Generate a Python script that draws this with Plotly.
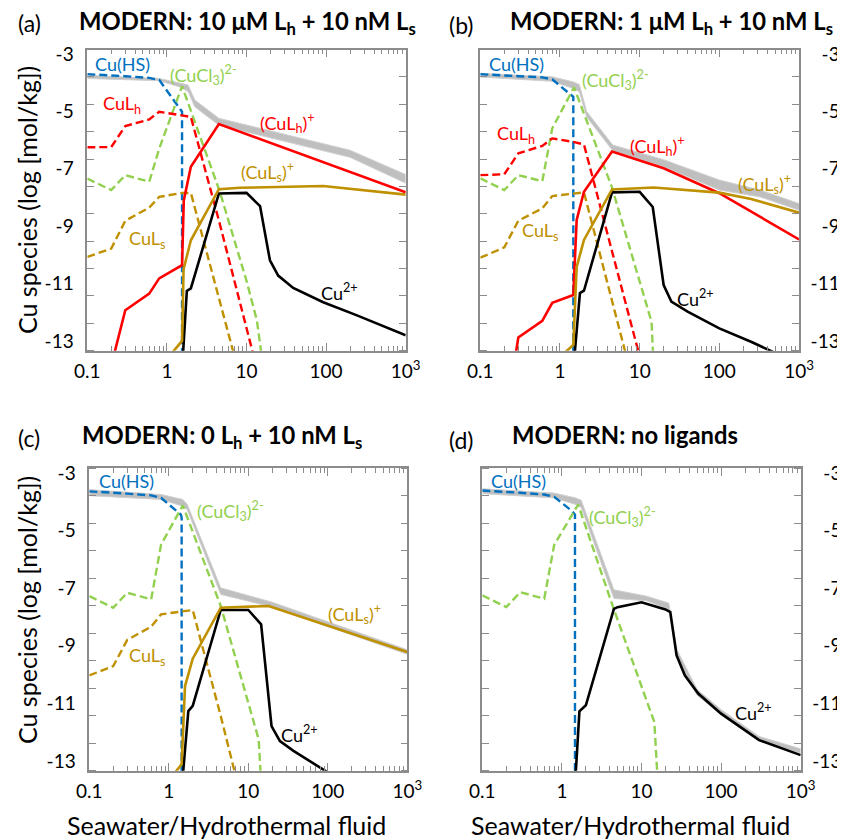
import plotly.graph_objects as go

# ---------------- data (x = seawater/hydrothermal ratio, y = log Cu species) -------------
# Panel (a): MODERN 10 uM Lh + 10 nM Ls
A_TOT_X = [0.1, 0.8, 1.5, 1.85, 2.24, 4.5, 200, 1000]
A_TOT_HI = [-3.74, -3.85, -4.02, -4.08, -4.6, -5.24, -6.35, -7.2]
A_TOT_LO = [-3.85, -3.93, -4.16, -4.31, -4.84, -5.48, -6.6, -7.5]
A_HS_X = [0.1, 0.2, 0.3, 0.6, 0.8, 1.55, 1.55]
A_HS_Y = [-3.70, -3.73, -3.77, -3.83, -3.9, -5.01, -14]
A_CL_X = [0.1, 0.2, 0.3, 0.6, 0.8, 1.55, 4.6, 10, 13.5, 16]
A_CL_Y = [-7.34, -7.74, -7.22, -7.45, -6.3, -4.12, -7.78, -10.9, -12.28, -13.8]
A_LHD_X = [0.1, 0.2, 0.3, 0.6, 0.8, 1.55, 2.0, 4.5, 12.5]
A_LHD_Y = [-6.25, -6.24, -5.51, -5.28, -5.01, -5.13, -5.19, -8.8, -13.6]
A_LSD_X = [0.1, 0.2, 0.3, 0.6, 0.8, 1.55, 2.0, 4.5, 7.0]
A_LSD_Y = [-10.07, -9.78, -8.81, -8.35, -7.98, -7.84, -7.84, -11.44, -13.5]
A_LH_X = [0.2, 0.3, 0.6, 0.8, 1.55, 1.63, 2.0, 4.5, 1000]
A_LH_Y = [-13.86, -11.93, -11.35, -10.82, -10.36, -8.1, -6.93, -5.44, -7.82]
A_LS_X = [0.8, 1.55, 1.62, 2.0, 4.5, 8.3, 92, 1000]
A_LS_Y = [-13.95, -13.0, -10.5, -9.49, -7.71, -7.66, -7.6, -7.9]
A_CU_X = [1.55, 1.78, 2.0, 4.5, 10, 14.8, 19.7, 25, 38.6, 92, 240, 1000]
A_CU_Y = [-14, -11.26, -11.17, -7.86, -7.84, -8.3, -10.19, -10.72, -11.15, -11.65, -12.1, -12.8]

# Panel (b): MODERN 1 uM Lh + 10 nM Ls
B_TOT_X = [0.1, 0.8, 1.47, 1.75, 2.16, 4.6, 20, 100, 325, 1000]
B_TOT_HI = [-3.67, -3.79, -3.97, -4.06, -5.0, -6.17, -6.68, -7.39, -7.74, -8.21]
B_TOT_LO = [-3.8, -3.95, -4.2, -4.31, -5.19, -6.37, -6.93, -7.74, -7.98, -8.44]
B_HS_X = [0.1, 0.2, 0.3, 0.6, 0.8, 1.47, 1.47]
B_HS_Y = [-3.70, -3.73, -3.77, -3.81, -3.88, -4.49, -14]
B_CL_X = [0.1, 0.2, 0.3, 0.6, 0.8, 1.5, 4.46, 14.1, 14.8]
B_CL_Y = [-7.33, -7.74, -7.22, -7.43, -5.59, -4.16, -7.62, -12.33, -13.6]
B_LHD_X = [0.1, 0.2, 0.3, 0.6, 0.8, 1.47, 2.0, 4.5, 10]
B_LHD_Y = [-7.22, -7.19, -6.46, -6.2, -5.94, -6.06, -6.15, -9.87, -13.54]
B_LSD_X = [0.1, 0.2, 0.3, 0.6, 0.8, 1.47, 2.0, 4.5, 7.0]
B_LSD_Y = [-10.1, -9.74, -8.81, -8.38, -7.95, -7.85, -7.82, -11.6, -13.66]
B_LH_X = [0.2, 0.3, 0.6, 0.8, 1.47, 1.62, 2.0, 4.5, 20, 100, 1000]
B_LH_Y = [-16, -12.88, -12.3, -11.67, -11.4, -8.78, -7.8, -6.4, -6.98, -7.85, -9.46]
B_LS_X = [0.8, 1.47, 1.62, 2.0, 4.5, 15, 100, 250, 1000]
B_LS_Y = [-13.8, -13.14, -10.42, -9.48, -7.72, -7.65, -7.83, -8.05, -8.53]
B_CU_X = [1.47, 1.78, 2.0, 4.5, 10, 14.6, 20, 25, 40, 100, 250, 1000]
B_CU_Y = [-14, -11.33, -11.25, -7.82, -7.8, -8.33, -11.05, -11.63, -11.98, -12.56, -13.03, -13.8]

# Panel (c): MODERN 0 Lh + 10 nM Ls
C_TOT_X = [0.1, 0.8, 1.5, 1.7, 4.5, 20, 1000]
C_TOT_HI = [-3.58, -3.75, -3.92, -4.08, -6.99, -7.49, -9.14]
C_TOT_LO = [-3.79, -3.92, -4.16, -4.27, -7.22, -7.66, -9.3]
C_HS_X = [0.1, 0.2, 0.3, 0.6, 0.8, 1.42, 1.45, 1.45]
C_HS_Y = [-3.64, -3.68, -3.72, -3.78, -3.87, -4.45, -4.55, -14]
C_CL_X = [0.1, 0.2, 0.3, 0.6, 0.8, 1.5, 4.5, 13.5, 14.7]
C_CL_Y = [-7.28, -7.68, -7.16, -7.39, -5.49, -4.13, -7.62, -12.25, -14]
C_LSD_X = [0.1, 0.2, 0.3, 0.6, 0.8, 1.5, 2.0, 4.5, 7.2]
C_LSD_Y = [-10.03, -9.71, -8.8, -8.34, -7.91, -7.8, -7.76, -11.44, -13.7]
C_LS_X = [0.8, 1.45, 1.6, 2.0, 4.5, 18, 1000]
C_LS_Y = [-14.0, -13.12, -10.4, -9.45, -7.68, -7.62, -9.22]
C_CU_X = [1.45, 1.76, 2.0, 4.5, 10, 14.5, 19.6, 25, 37, 88, 100]
C_CU_Y = [-14, -11.27, -11.09, -7.76, -7.76, -8.26, -11.79, -12.31, -12.65, -13.29, -13.4]

# Panel (d): MODERN no ligands
D_TOT_X = [0.1, 0.8, 1.5, 1.75, 4.5, 11.6, 22, 28, 50, 100, 300, 1000]
D_TOT_HI = [-3.55, -3.7, -3.87, -3.95, -7.06, -7.28, -7.52, -9.15, -10.52, -11.22, -12.15, -12.58]
D_TOT_LO = [-3.72, -3.87, -4.1, -4.2, -7.36, -7.44, -7.74, -9.4, -10.72, -11.4, -12.3, -12.74]
D_HS_X = [0.1, 0.2, 0.3, 0.6, 0.8, 1.35, 1.46, 1.46]
D_HS_Y = [-3.61, -3.65, -3.69, -3.75, -3.83, -4.33, -4.45, -14]
D_CL_X = [0.1, 0.2, 0.3, 0.6, 0.8, 1.6, 4.5, 14.5, 16.2]
D_CL_Y = [-7.25, -7.66, -7.14, -7.37, -5.5, -4.1, -7.74, -11.65, -14]
D_CU_X = [1.45, 1.66, 2.0, 4.5, 5, 10, 20, 23, 27.6, 35, 51.6, 100, 300, 1000]
D_CU_Y = [-14, -11.28, -11.07, -7.72, -7.66, -7.49, -7.74, -7.83, -9.34, -10.03, -10.66, -11.36, -12.28, -12.8]

X_TICKS = [0.1, 1, 10, 100, 1000]
X_TICKTEXT = ["0.1", "1", "10", "100", "10<sup>3</sup>"]
Y_TICKS = [-3, -5, -7, -9, -11, -13]
Y_TICKTEXT_L = ["-3", "-5", "-7", "-9", "-11", "-13"]
Y_TICKTEXT_R = ["\u2007-3", "\u2007-5", "\u2007-7", "\u2007-9", "-11", "-13"]

TITLES = ["<b>MODERN: 10 μM L<sub>h</sub> + 10 nM L<sub>s</sub></b>",
          "<b>MODERN: 1 μM L<sub>h</sub> + 10 nM L<sub>s</sub></b>",
          "<b>MODERN: 0 L<sub>h</sub> + 10 nM L<sub>s</sub></b>",
          "<b>MODERN: no ligands</b>"]
LETTERS = ["(a)", "(b)", "(c)", "(d)"]

# ---------------- styling ----------------
FONT = "Lato"
BLUE = "#0070C0"
RED = "#FF0000"
GREEN = "#92D050"
GOLD = "#BF9000"
BLACK = "#000000"
BAND = "#BFBFBF"
FRAME = "#8C8C8C"
DASH = "8px,4px"
TICK_SIZE = 19
LABEL_SIZE = 18
TITLE_SIZE = 23.8
LETTER_SIZE = 23
AXTITLE_SIZE = 25

fig = go.Figure()


def band(xs, hi, lo, n):
    ax = "" if n == 1 else str(n)
    fig.add_trace(go.Scatter(x=xs, y=lo, mode="lines", line=dict(color="#D0D0D0", width=1),
                             xaxis="x" + ax, yaxis="y" + ax, showlegend=False, hoverinfo="skip"))
    fig.add_trace(go.Scatter(x=xs, y=hi, mode="lines", line=dict(color="#D0D0D0", width=1),
                             fill="tonexty", fillcolor=BAND,
                             xaxis="x" + ax, yaxis="y" + ax, showlegend=False, hoverinfo="skip"))


def line(xs, ys, color, n, dashed):
    ax = "" if n == 1 else str(n)
    fig.add_trace(go.Scatter(x=xs, y=ys, mode="lines",
                             line=dict(color=color, width=2.6 if not dashed else 2.4,
                                       dash=DASH if dashed else "solid"),
                             xaxis="x" + ax, yaxis="y" + ax, showlegend=False))


# panel a
band(A_TOT_X, A_TOT_HI, A_TOT_LO, 1)
line(A_HS_X, A_HS_Y, BLUE, 1, True)
line(A_CL_X, A_CL_Y, GREEN, 1, True)
line(A_LHD_X, A_LHD_Y, RED, 1, True)
line(A_LSD_X, A_LSD_Y, GOLD, 1, True)
line(A_CU_X, A_CU_Y, BLACK, 1, False)
line(A_LS_X, A_LS_Y, GOLD, 1, False)
line(A_LH_X, A_LH_Y, RED, 1, False)
# panel b
band(B_TOT_X, B_TOT_HI, B_TOT_LO, 2)
line(B_HS_X, B_HS_Y, BLUE, 2, True)
line(B_CL_X, B_CL_Y, GREEN, 2, True)
line(B_LHD_X, B_LHD_Y, RED, 2, True)
line(B_LSD_X, B_LSD_Y, GOLD, 2, True)
line(B_CU_X, B_CU_Y, BLACK, 2, False)
line(B_LH_X, B_LH_Y, RED, 2, False)
line(B_LS_X, B_LS_Y, GOLD, 2, False)
# panel c
band(C_TOT_X, C_TOT_HI, C_TOT_LO, 3)
line(C_HS_X, C_HS_Y, BLUE, 3, True)
line(C_CL_X, C_CL_Y, GREEN, 3, True)
line(C_LSD_X, C_LSD_Y, GOLD, 3, True)
line(C_CU_X, C_CU_Y, BLACK, 3, False)
line(C_LS_X, C_LS_Y, GOLD, 3, False)
# panel d
band(D_TOT_X, D_TOT_HI, D_TOT_LO, 4)
line(D_HS_X, D_HS_Y, BLUE, 4, True)
line(D_CL_X, D_CL_Y, GREEN, 4, True)
line(D_CU_X, D_CU_Y, BLACK, 4, False)

# ---------------- axes ----------------
W, H = 845, 839
OFF = 8  # the page body adds an 8px offset to the figure


def sx(px):
    return (px - OFF) / W


def sy(py):
    return 1 - (py - OFF) / H


minor_x = [m * 10 ** e for e in (-1, 0, 1, 2) for m in range(2, 10)]
X_DOMAINS = [(87.3, 405.7), (480.3, 799.0), (89.3, 407.3), (482.3, 800.7)]
Y_DOMAINS = [(49.5, 350.7), (49.5, 350.7), (468.3, 770.7), (468.3, 770.7)]
Y_RANGE = [-13.34, -2.84]

layout = dict(template="none", width=W, height=H, autosize=False,
              margin=dict(l=0, r=0, t=0, b=0, pad=0),
              paper_bgcolor="white", plot_bgcolor="white",
              font=dict(family=FONT, size=TICK_SIZE, color="black"), showlegend=False)

for i in range(4):
    n = i + 1
    ax = "" if n == 1 else str(n)
    x0, x1 = X_DOMAINS[i]
    t, b = Y_DOMAINS[i]
    left = n in (1, 3)
    layout["xaxis" + ax] = dict(
        type="log", range=[-1, 3.0], domain=[sx(x0), sx(x1)], anchor="y" + ax,
        automargin=False,
        tickmode="array", tickvals=X_TICKS, ticktext=X_TICKTEXT,
        ticks="inside", ticklen=8, tickwidth=1.3, tickcolor=FRAME,
        showline=True, linecolor=FRAME, linewidth=1.6, mirror="ticks",
        showgrid=False, zeroline=False, tickfont=dict(size=TICK_SIZE, family=FONT, color="black"),
        ticklabelstandoff=3,
        minor=dict(tickmode="array", tickvals=minor_x, ticks="inside", ticklen=5,
                   tickwidth=1.2, tickcolor=FRAME, showgrid=False))
    layout["yaxis" + ax] = dict(
        range=Y_RANGE, domain=[sy(b), sy(t)], anchor="x" + ax,
        automargin=False,
        side="left" if left else "right",
        tickmode="array", tickvals=Y_TICKS,
        ticktext=Y_TICKTEXT_L if left else Y_TICKTEXT_R, ticks="",
        showline=True, linecolor=FRAME, linewidth=1.6, mirror="ticks",
        showgrid=False, zeroline=False, tickfont=dict(size=TICK_SIZE, family=FONT, color="black"),
        ticklabelstandoff=8 if left else 6,
        minor=dict(tick0=-2.84, dtick=0.9545, ticks="inside", ticklen=7,
                   tickwidth=1.3, tickcolor=FRAME, showgrid=False))

fig.update_layout(**layout)

# ---------------- text ----------------
ann = []


def label(n, lx, ly, text, color):
    ax = "" if n == 1 else str(n)
    ann.append(dict(x=lx, y=ly, xref="x" + ax, yref="y" + ax, text=text, showarrow=False,
                    font=dict(family=FONT, size=LABEL_SIZE, color=color),
                    xanchor="center", yanchor="middle"))


CUCL3 = "(CuCl<sub>3</sub>)<sup>2-</sup>"
label(1, -0.552, -3.35, "Cu(HS)", BLUE)
label(1, 0.455, -3.73, CUCL3, GREEN)
label(1, -0.563, -4.74, "CuL<sub>h</sub>", RED)
label(1, 1.51, -5.41, "(CuL<sub>h</sub>)<sup>+</sup>", RED)
label(1, 1.26, -7.12, "(CuL<sub>s</sub>)<sup>+</sup>", GOLD)
label(1, -0.25, -9.45, "CuL<sub>s</sub>", GOLD)
label(1, 2.17, -11.3, "Cu<sup>2+</sup>", BLACK)

label(2, -0.54, -3.35, "Cu(HS)", BLUE)
label(2, 0.70, -3.9, CUCL3, GREEN)
label(2, -0.55, -5.79, "CuL<sub>h</sub>", RED)
label(2, 1.23, -6.2, "(CuL<sub>h</sub>)<sup>+</sup>", RED)
label(2, 2.57, -7.53, "(CuL<sub>s</sub>)<sup>+</sup>", GOLD)
label(2, -0.247, -9.2, "CuL<sub>s</sub>", GOLD)
label(2, 1.70, -11.51, "Cu<sup>2+</sup>", BLACK)

label(3, -0.53, -3.29, "Cu(HS)", BLUE)
label(3, 0.77, -4.33, CUCL3, GREEN)
label(3, 2.33, -7.89, "(CuL<sub>s</sub>)<sup>+</sup>", GOLD)
label(3, -0.28, -9.38, "CuL<sub>s</sub>", GOLD)
label(3, 1.65, -12.08, "Cu<sup>2+</sup>", BLACK)

label(4, -0.543, -3.27, "Cu(HS)", BLUE)
label(4, 0.76, -4.54, CUCL3, GREEN)
label(4, 2.405, -11.3, "Cu<sup>2+</sup>", BLACK)

TITLE_POS = [(247, 23), (671, 23), (222, 437), (625, 435)]
LETTER_POS = [(29, 23), (461, 25), (29, 438), (461, 440)]
for i in range(4):
    tx, ty = TITLE_POS[i]
    ann.append(dict(x=sx(tx), y=sy(ty), xref="paper", yref="paper", text=TITLES[i],
                    showarrow=False, font=dict(family=FONT, size=TITLE_SIZE, color="black"),
                    xanchor="center", yanchor="middle"))
    lx, ly = LETTER_POS[i]
    ann.append(dict(x=sx(lx), y=sy(ly), xref="paper", yref="paper", text=LETTERS[i],
                    showarrow=False, font=dict(family=FONT, size=LETTER_SIZE, color="black"),
                    xanchor="center", yanchor="middle"))

for cy in (200, 610):
    ann.append(dict(x=sx(27), y=sy(cy), xref="paper", yref="paper",
                    text="Cu species (log [mol/kg])", textangle=-90, showarrow=False,
                    font=dict(family=FONT, size=AXTITLE_SIZE, color="black"),
                    xanchor="center", yanchor="middle"))
for cx in (226, 630):
    ann.append(dict(x=sx(cx), y=sy(825), xref="paper", yref="paper",
                    text="Seawater/Hydrothermal fluid", showarrow=False,
                    font=dict(family=FONT, size=AXTITLE_SIZE, color="black"),
                    xanchor="center", yanchor="middle"))

fig.update_layout(annotations=ann)
fig.write_html("out.html")
